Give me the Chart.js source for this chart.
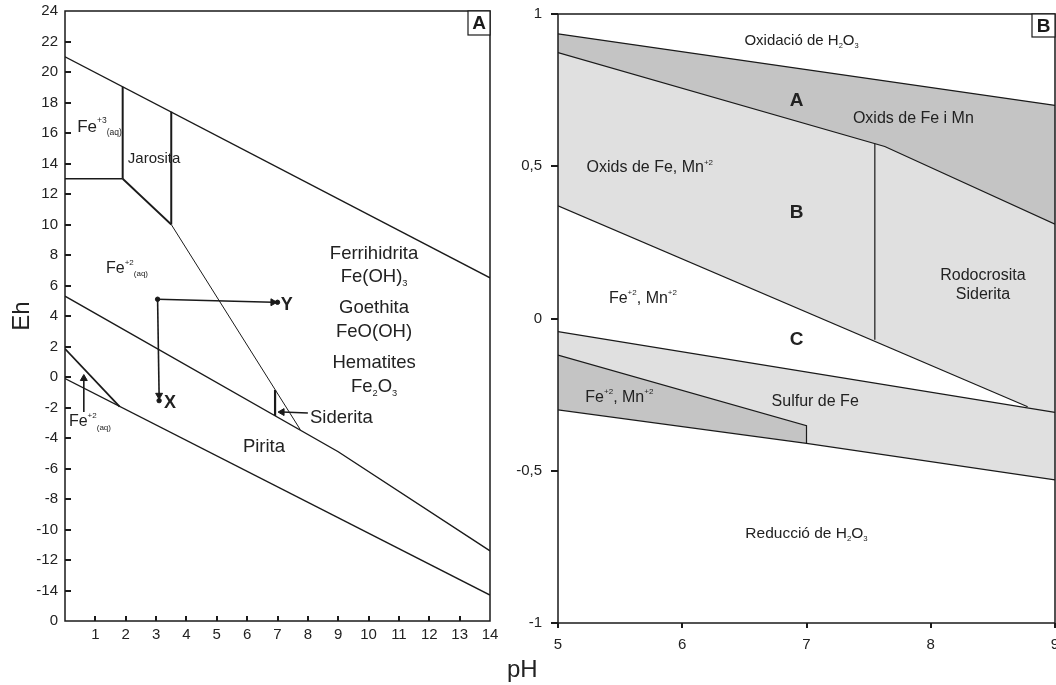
<!DOCTYPE html>
<html>
<head>
<meta charset="utf-8">
<script src="https://cdn.jsdelivr.net/npm/chart.js@4.4.1/dist/chart.umd.min.js"></script>
<style>
  body { margin: 0; background: #fff; width: 1056px; height: 685px; overflow: hidden; position: relative;
         font-family: "Liberation Sans", Arial, sans-serif; }
  #wrapA { position: absolute; left: 0; top: 0; width: 505px; height: 685px; }
  #wrapB { position: absolute; left: 505px; top: 0; width: 570px; height: 685px; }
  #phTitle { position: absolute; left: 507px; top: 655px; font-size: 24px; line-height: 28px; color: #222; }
</style>
</head>
<body>
<div id="wrapA"><canvas id="chartA"></canvas></div>
<div id="wrapB"><canvas id="chartB"></canvas></div>
<div id="phTitle">pH</div>
<script>
// ---- Panel A: boundaries, [pH, Eh] ----
const oxygenA    = [[0, 21], [14, 6.5]];
const jarositeL  = [[1.9, 13], [1.9, 19.03]];
const fe3Floor   = [[0, 13], [1.9, 13]];
const jarositeB  = [[1.9, 13], [3.5, 10]];
const jarositeR  = [[3.5, 10], [3.5, 17.4]];
const hydroxEdge = [[3.5, 10], [7.75, -3.45]];
const middleA    = [[0, 5.3], [9, -4.9], [14, -11.4]];
const sideritaA  = [[6.92, -0.85], [6.92, -2.55]];
const smallA     = [[0, 1.85], [1.8, -1.95]];
const lowerA     = [[0, -0.1], [14, -14.3]];
const arrowY     = [[3.05, 5.1], [6.85, 4.9]];
const arrowX     = [[3.05, 5.1], [3.1, -1.2]];
const arrowFe2   = [[0.62, -2.3], [0.62, -0.1]];
const arrowSid   = [[8.0, -2.36], [7.15, -2.3]];
const dotsA      = [[3.05, 5.1], [7.0, 4.9], [3.1, -1.55]];

const xTicksA = [0, 14, 1];
const yTicksA = [-16, 24, 2];

// ---- Panel B: boundaries, [pH, Eh] ----
const oxidationB = [[5, 0.935], [9, 0.70]];
const oxidsAB    = [[5, 0.873], [7.63, 0.565], [9, 0.31]];
const oxidsBC    = [[5, 0.37], [8.78, -0.29]];
const sulfurTop  = [[5, -0.043], [9, -0.308]];
const darkLower  = [[5, -0.12], [7, -0.352], [7, -0.41]];
const reductionB = [[5, -0.30], [7, -0.41], [9, -0.53]];
const rodoSplit  = [[7.55, 0.574], [7.55, -0.07]];

const xTicksB = [5, 9, 1];
const yTicksB = [-1, 1, 0.5];

// ---- Text labels ----
const labelsA = [
  { t: 'Fe^{+3}_{(aq)}', x: 0.4, y: 16.4, s: 17, a: 'left' },
  { t: 'Jarosita', x: 2.07, y: 14.3, s: 15, a: 'left' },
  { t: 'Fe^{+2}_{(aq)}', x: 1.35, y: 7.1, s: 16, a: 'left' },
  { t: 'Fe^{+2}_{(aq)}', x: 0.13, y: -2.95, s: 16, a: 'left' },
  { t: 'Ferrihidrita', x: 10.18, y: 8.05, s: 18.5, a: 'center' },
  { t: 'Fe(OH)_{3}', x: 10.18, y: 6.54, s: 18.5, a: 'center' },
  { t: 'Goethita', x: 10.18, y: 4.5, s: 18.5, a: 'center' },
  { t: 'FeO(OH)', x: 10.18, y: 2.93, s: 18.5, a: 'center' },
  { t: 'Hematites', x: 10.18, y: 0.9, s: 18.5, a: 'center' },
  { t: 'Fe_{2}O_{3}', x: 10.18, y: -0.68, s: 18.5, a: 'center' },
  { t: 'Siderita', x: 8.07, y: -2.71, s: 18.5, a: 'left' },
  { t: 'Pirita', x: 5.86, y: -4.6, s: 18.5, a: 'left' },
  { t: 'X', x: 3.26, y: -1.73, s: 18, a: 'left', b: true },
  { t: 'Y', x: 7.11, y: 4.7, s: 18, a: 'left', b: true }
];
const labelsB = [
  { t: 'Oxidació de H_{2}O_{3}', x: 6.96, y: 0.911, s: 15, a: 'center' },
  { t: 'A', x: 6.92, y: 0.714, s: 19, a: 'center', b: true },
  { t: 'Oxids de Fe i Mn', x: 7.86, y: 0.658, s: 16, a: 'center' },
  { t: 'Oxids de Fe, Mn^{+2}', x: 5.23, y: 0.494, s: 16, a: 'left' },
  { t: 'B', x: 6.92, y: 0.346, s: 19, a: 'center', b: true },
  { t: 'Fe^{+2}, Mn^{+2}', x: 5.41, y: 0.064, s: 16, a: 'left' },
  { t: 'C', x: 6.92, y: -0.071, s: 19, a: 'center', b: true },
  { t: 'Fe^{+2}, Mn^{+2}', x: 5.22, y: -0.261, s: 16, a: 'left' },
  { t: 'Sulfur de Fe', x: 7.07, y: -0.274, s: 16, a: 'center' },
  { t: 'Rodocrosita', x: 8.42, y: 0.14, s: 16, a: 'center' },
  { t: 'Siderita', x: 8.42, y: 0.08, s: 16, a: 'center' },
  { t: 'Reducció de H_{2}O_{3}', x: 7.0, y: -0.708, s: 15.5, a: 'center' }
];

const FONT = '"Liberation Sans", Arial, sans-serif';
const INK = '#1a1a1a';
const DARK = '#c4c4c4';
const LIGHT = '#e0e0e0';

const pts = arr => arr.map(([x, y]) => ({ x, y }));

function line(data, extra) {
  return Object.assign({
    data: pts(data), borderColor: INK, borderWidth: 1.4, pointRadius: 0,
    tension: 0, fill: false
  }, extra || {});
}

// arrow: triangle point at the last vertex
function arrow(data, rot) {
  return line(data, {
    borderWidth: 1.6,
    pointStyle: 'triangle',
    pointRadius: [0, 4],
    pointRotation: rot,
    pointBackgroundColor: INK,
    pointBorderColor: INK,
    pointBorderWidth: 1
  });
}

// draws text with ^{sup} and _{sub}
function drawRich(ctx, str, x, y, size, bold, align) {
  const parts = [];
  const re = /([\^_])\{([^}]*)\}|([^\^_]+)/g;
  let m;
  while ((m = re.exec(str))) parts.push(m[3] ? { t: m[3], k: '' } : { t: m[2], k: m[1] });
  const font = s => (bold ? 'bold ' : '') + s + 'px ' + FONT;
  const small = size * 0.5;
  let total = 0;
  parts.forEach(p => {
    ctx.font = font(p.k ? small : size);
    p.w = ctx.measureText(p.t).width;
    total += p.w;
  });
  let cx = align === 'center' ? x - total / 2 : x;
  ctx.textAlign = 'left';
  ctx.textBaseline = 'middle';
  parts.forEach(p => {
    ctx.font = font(p.k ? small : size);
    let dy = 0;
    if (p.k === '^') dy = -size * 0.36;
    if (p.k === '_') dy = size * 0.34;
    ctx.fillText(p.t, cx, y + dy);
    cx += p.w;
  });
}

const labelPlugin = {
  id: 'richLabels',
  afterDatasetsDraw(chart, args, opts) {
    const { ctx, scales: { x, y } } = chart;
    ctx.save();
    ctx.fillStyle = '#222';
    opts.items.forEach(l => {
      drawRich(ctx, l.t, x.getPixelForValue(l.x), y.getPixelForValue(l.y), l.s, l.b, l.a);
    });
    ctx.restore();
  }
};

const framePlugin = {
  id: 'frame',
  afterDraw(chart, args, opts) {
    const { ctx, chartArea: a, scales: { x, y } } = chart;
    ctx.save();
    ctx.strokeStyle = INK;
    ctx.lineWidth = 1.5;
    ctx.strokeRect(a.left, a.top, a.right - a.left, a.bottom - a.top);
    if (opts.inTicks) {
      ctx.lineWidth = 2;
      ctx.beginPath();
      x.ticks.forEach(t => {
        if (t.value <= x.min || t.value >= x.max) return;
        const px = Math.round(x.getPixelForValue(t.value));
        ctx.moveTo(px, a.bottom); ctx.lineTo(px, a.bottom - 5);
      });
      y.ticks.forEach(t => {
        if (t.value <= y.min || t.value >= y.max) return;
        const py = Math.round(y.getPixelForValue(t.value));
        ctx.moveTo(a.left, py); ctx.lineTo(a.left + 6, py);
      });
      ctx.stroke();
    }
    // panel letter in the corner
    const w = opts.boxW, h = opts.boxH;
    ctx.lineWidth = 1.2;
    ctx.fillStyle = '#fff';
    ctx.fillRect(a.right - w, a.top, w, h);
    ctx.strokeRect(a.right - w, a.top, w, h);
    ctx.fillStyle = INK;
    ctx.font = 'bold 19px ' + FONT;
    ctx.textAlign = 'center';
    ctx.textBaseline = 'middle';
    ctx.fillText(opts.letter, a.right - w / 2, a.top + h / 2 + 1);
    ctx.restore();
  }
};

Chart.register(labelPlugin, framePlugin);

// fixed axis boxes so the plot areas sit where the reference has them
const fixY = w => s => { s.width = w; s.paddingTop = 0; s.paddingBottom = 0; };
const fixX = h => s => { s.height = h; s.paddingLeft = 0; s.paddingRight = 0; };

// ---------- Chart A ----------
new Chart(document.getElementById('chartA').getContext('2d'), {
  type: 'line',
  data: {
    datasets: [
      line(oxygenA), line(jarositeL, { borderWidth: 2 }), line(fe3Floor), line(jarositeB, { borderWidth: 1.8 }),
      line(jarositeR, { borderWidth: 2 }), line(hydroxEdge, { borderWidth: 1 }), line(middleA),
      line(sideritaA, { borderWidth: 2.2 }), line(smallA, { borderWidth: 1.8 }), line(lowerA),
      arrow(arrowY, 90), arrow(arrowX, 180), arrow(arrowFe2, 0), arrow(arrowSid, 270),
      { data: pts(dotsA), showLine: false, pointRadius: 2.2, pointBackgroundColor: INK, pointBorderColor: INK }
    ]
  },
  options: {
    responsive: true,
    maintainAspectRatio: false,
    animation: false,
    events: [],
    layout: { padding: { top: 11, right: 15, left: 0, bottom: 0 } },
    plugins: {
      legend: { display: false },
      tooltip: { enabled: false },
      richLabels: { items: labelsA },
      frame: { inTicks: true, letter: 'A', boxW: 22, boxH: 24 }
    },
    scales: {
      x: {
        type: 'linear', min: xTicksA[0], max: xTicksA[1],
        grid: { display: false, drawTicks: false }, border: { display: false },
        ticks: {
          stepSize: xTicksA[2], padding: 5, color: '#222', font: { size: 15, family: FONT },
          maxRotation: 0,
          callback: v => (v === 0 ? '' : v)
        },
        afterFit: fixX(64)
      },
      y: {
        type: 'linear', min: yTicksA[0], max: yTicksA[1],
        grid: { display: false, drawTicks: false }, border: { display: false },
        title: { display: true, text: 'Eh', color: '#222', font: { size: 24, family: FONT }, padding: { top: 8, bottom: 0 } },
        ticks: {
          stepSize: yTicksA[2], padding: 7, color: '#222', font: { size: 15, family: FONT },
          callback: v => (v === -16 ? '0' : v)
        },
        afterFit: fixY(65)
      }
    }
  }
});

// ---------- Chart B ----------
const comma = v => String(v).replace('.', ',');
new Chart(document.getElementById('chartB').getContext('2d'), {
  type: 'line',
  data: {
    datasets: [
      line(oxidationB, { fill: 'start', backgroundColor: DARK, order: 6, borderWidth: 1.2 }),
      line(oxidsAB, { fill: 'start', backgroundColor: LIGHT, order: 5, borderWidth: 1.2 }),
      line(oxidsBC, { fill: 'start', backgroundColor: '#ffffff', order: 4, borderWidth: 1.2 }),
      line(sulfurTop, { fill: 'start', backgroundColor: LIGHT, order: 3, borderWidth: 1.2 }),
      line(darkLower, { fill: 'start', backgroundColor: DARK, order: 2, borderWidth: 1.2 }),
      line(reductionB, { fill: 'start', backgroundColor: '#ffffff', order: 1, borderWidth: 1.2 }),
      line(rodoSplit, { order: 0, borderWidth: 1.2 })
    ]
  },
  options: {
    responsive: true,
    maintainAspectRatio: false,
    animation: false,
    events: [],
    layout: { padding: { top: 14, right: 20, left: 0, bottom: 0 } },
    plugins: {
      legend: { display: false },
      tooltip: { enabled: false },
      filler: { drawTime: 'beforeDatasetsDraw' },
      richLabels: { items: labelsB },
      frame: { inTicks: false, letter: 'B', boxW: 23, boxH: 23 }
    },
    scales: {
      x: {
        type: 'linear', min: xTicksB[0], max: xTicksB[1],
        grid: { drawOnChartArea: false, tickLength: 5, color: INK, lineWidth: 2 },
        border: { display: false },
        ticks: { stepSize: xTicksB[2], padding: 8, color: '#222', font: { size: 15, family: FONT }, maxRotation: 0 },
        afterFit: fixX(62)
      },
      y: {
        type: 'linear', min: yTicksB[0], max: yTicksB[1],
        grid: { drawOnChartArea: false, tickLength: 7, color: INK, lineWidth: 2 },
        border: { display: false },
        ticks: { stepSize: yTicksB[2], padding: 9, color: '#222', font: { size: 15, family: FONT }, callback: comma },
        afterFit: fixY(53)
      }
    }
  }
});
</script>
</body>
</html>
